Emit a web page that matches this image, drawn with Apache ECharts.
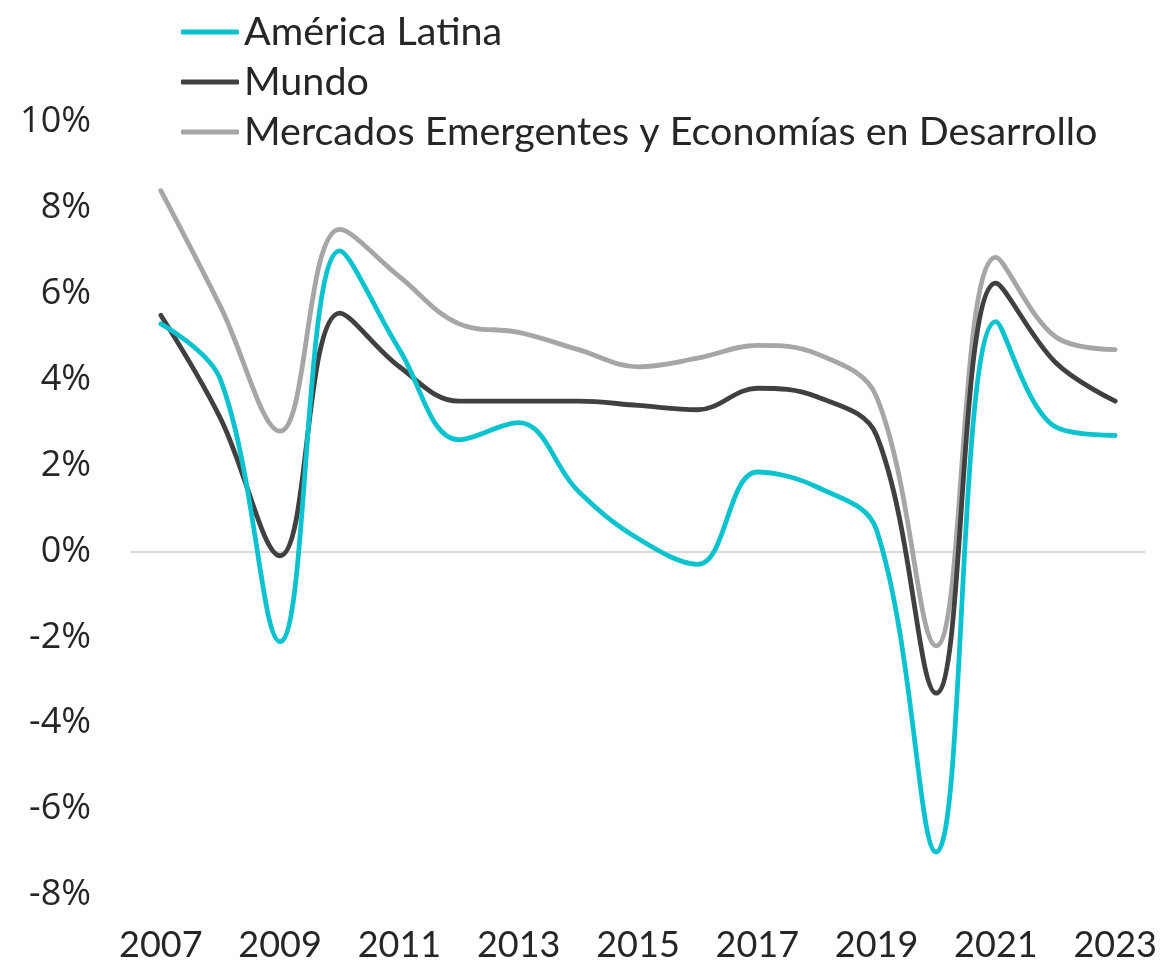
<!DOCTYPE html>
<html>
<head>
<meta charset="utf-8">
<script src="https://cdn.jsdelivr.net/npm/echarts@6/dist/echarts.min.js"></script>
<style>
  html, body { margin: 0; padding: 0; background: #ffffff; }
  #chart { width: 1163px; height: 971px; }
</style>
</head>
<body>
<div id="chart"></div>
<script>
const years = ['2007','2008','2009','2010','2011','2012','2013','2014','2015','2016','2017','2018','2019','2020','2021','2022','2023'];
const americaLatina = [5.3, 4.0, -2.1, 7.0, 4.7, 2.6, 3.0, 1.4, 0.3, -0.3, 1.85, 1.5, 0.5, -7.0, 5.35, 2.9, 2.7];
const mundo = [5.5, 3.1, -0.1, 5.55, 4.3, 3.5, 3.5, 3.5, 3.4, 3.3, 3.8, 3.6, 2.7, -3.3, 6.25, 4.4, 3.5];
const emergentes = [8.4, 5.7, 2.8, 7.5, 6.4, 5.3, 5.1, 4.7, 4.3, 4.5, 4.8, 4.6, 3.6, -2.2, 6.85, 5.0, 4.7];
const seriesNames = ['América Latina', 'Mundo', 'Mercados Emergentes y Economías en Desarrollo'];
const colors = ['#0BC3CF', '#404040', '#A6A6A6'];

const chart = echarts.init(document.getElementById('chart'), null, { renderer: 'canvas' });

function lineSeries(name, data, color, z) {
  return {
    name: name,
    type: 'line',
    data: data,
    smooth: 0.38,
    symbol: 'none',
    z: z,
    lineStyle: { color: color, width: 4.8, cap: 'round', join: 'round' },
    itemStyle: { color: color }
  };
}

const series = [
  lineSeries(seriesNames[2], emergentes, colors[2], 2),
  lineSeries(seriesNames[1], mundo, colors[1], 3),
  lineSeries(seriesNames[0], americaLatina, colors[0], 4)
];
series[0].markLine = {
  silent: true,
  symbol: 'none',
  label: { show: false },
  lineStyle: { color: '#D9D9D9', width: 2, type: 'solid' },
  data: [{ yAxis: 0 }],
  z: 1
};

chart.setOption({
  animation: false,
  backgroundColor: '#ffffff',
  color: colors,
  legend: {
    orient: 'vertical',
    left: 176,
    top: 6,
    itemWidth: 58,
    itemHeight: 5,
    itemGap: 8,
    icon: 'roundRect',
    data: seriesNames.map((n, i) => ({ name: n, itemStyle: { color: colors[i] } })),
    textStyle: { fontFamily: 'Lato', fontSize: 39.5, color: '#262626', lineHeight: 42 }
  },
  grid: { left: 131, right: 18, top: 122, bottom: 76, containLabel: false },
  xAxis: {
    type: 'category',
    data: years,
    boundaryGap: true,
    axisLine: { show: false, onZero: false },
    axisTick: { show: false },
    axisLabel: { interval: 1, margin: 32, fontFamily: 'Lato', fontSize: 36, color: '#262626' },
    splitLine: { show: false }
  },
  yAxis: {
    type: 'value',
    min: -8,
    max: 10,
    interval: 2,
    axisLine: { show: false },
    axisTick: { show: false },
    splitLine: { show: false },
    axisLabel: { margin: 40, formatter: '{value}%', fontFamily: 'Open Sans', fontSize: 36, color: '#262626' }
  },
  series: series
});
</script>
</body>
</html>
